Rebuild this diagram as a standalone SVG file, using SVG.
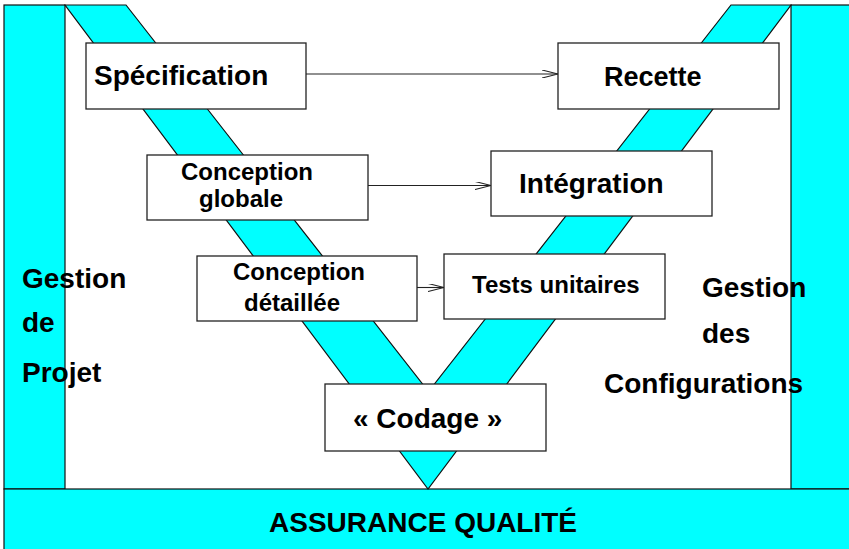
<svg xmlns="http://www.w3.org/2000/svg" width="849" height="549" viewBox="0 0 849 549">
<style>
.band{fill:#00ffff;stroke:#111;stroke-width:1.2;stroke-linejoin:miter}
.box{fill:#fff;stroke:#222;stroke-width:1.3}
.t{font-family:"Liberation Sans",Arial,Helvetica,sans-serif;font-weight:bold;fill:#000}
.big{font-size:28px}
.mid{font-size:24px}
.conn{stroke:#222;stroke-width:1.1;fill:none}
</style>
<defs>
<marker id="arr" viewBox="0 0 16 8" refX="16" refY="4" markerWidth="16" markerHeight="8" markerUnits="userSpaceOnUse" orient="auto">
<path d="M0,0 L16,4 L0,8" fill="none" stroke="#222" stroke-width="1.1"/>
</marker>
</defs>
<rect x="0" y="0" width="849" height="549" fill="#fff"/>
<g id="frame">
<rect class="band" x="4" y="5" width="61" height="484"/>
<rect class="band" x="791" y="5" width="62" height="484"/>
<rect class="band" x="4" y="489" width="849" height="64"/>
<polygon class="band" points="65,5 126,5 428.5,391.5 731,5 791,5 428,489"/>
</g>
<g id="connectors">
<line class="conn" x1="306" y1="74" x2="558" y2="74" marker-end="url(#arr)"/>
<line class="conn" x1="368" y1="185.5" x2="491" y2="185.5" marker-end="url(#arr)"/>
<line class="conn" x1="417" y1="287.5" x2="444" y2="287.5" marker-end="url(#arr)"/>
</g>
<g id="specification">
<rect class="box" x="86" y="43" width="220" height="66"/>
<text class="t big" x="94" y="85">Spécification</text>
</g>
<g id="recette">
<rect class="box" x="558" y="43" width="221" height="66"/>
<text class="t" font-size="27" x="604" y="86">Recette</text>
</g>
<g id="conception-globale">
<rect class="box" x="147" y="155" width="221" height="65"/>
<text class="t mid" x="181" y="180">Conception</text>
<text class="t mid" x="199" y="207">globale</text>
</g>
<g id="integration">
<rect class="box" x="491" y="151" width="221" height="65"/>
<text class="t big" x="519" y="193">Intégration</text>
</g>
<g id="conception-detaillee">
<rect class="box" x="197" y="256" width="220" height="65"/>
<text class="t mid" x="233" y="280">Conception</text>
<text class="t mid" x="244" y="311">détaillée</text>
</g>
<g id="tests-unitaires">
<rect class="box" x="444" y="254" width="221" height="65"/>
<text class="t mid" x="472" y="293">Tests unitaires</text>
</g>
<g id="codage">
<rect class="box" x="325" y="384" width="221" height="67"/>
<text class="t big" x="353" y="428">« Codage »</text>
</g>
<g id="gestion-projet">
<text class="t big" x="22" y="288">Gestion</text>
<text class="t big" x="22" y="332">de</text>
<text class="t big" x="22" y="382">Projet</text>
</g>
<g id="gestion-configurations">
<text class="t big" x="702" y="297">Gestion</text>
<text class="t big" x="702" y="343">des</text>
<text class="t big" x="604" y="393">Configurations</text>
</g>
<g id="assurance-qualite">
<text class="t big" x="269" y="532">ASSURANCE QUALITÉ</text>
</g>
</svg>
